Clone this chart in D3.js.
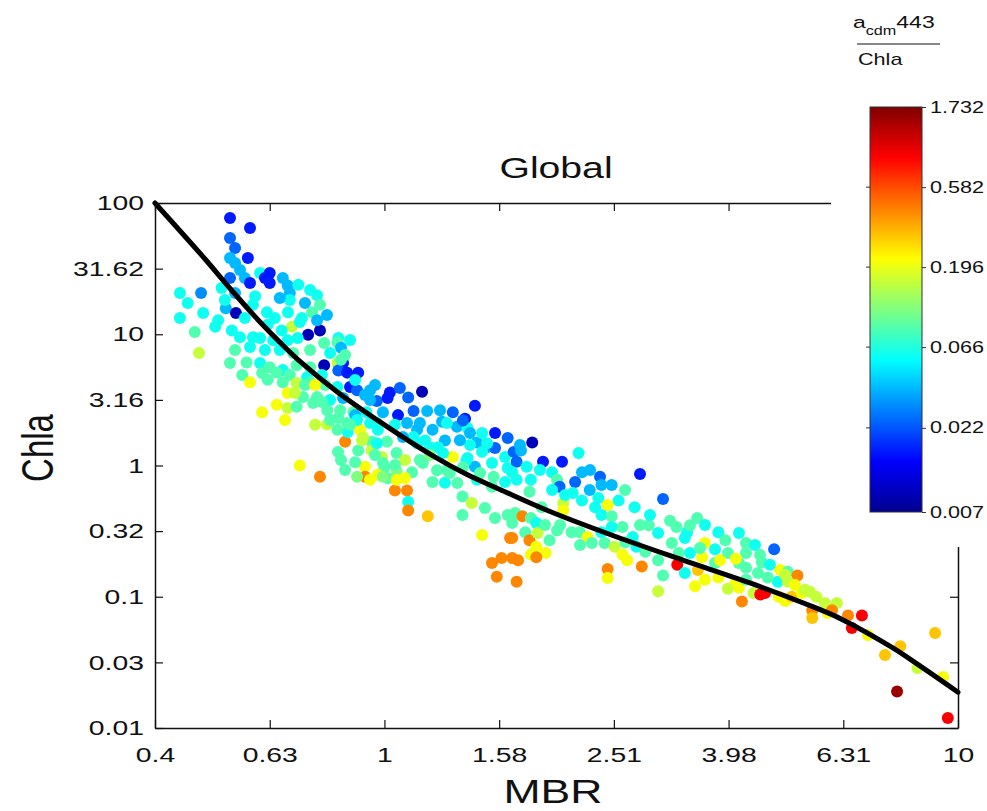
<!DOCTYPE html>
<html>
<head>
<meta charset="utf-8">
<script src="https://cdnjs.cloudflare.com/ajax/libs/d3/7.8.5/d3.min.js"></script>
<style>
  body { margin: 0; background: #fff; }
  text { font-family: "Liberation Sans", Arial, Helvetica, sans-serif; fill: #111; }
</style>
</head>
<body>
<svg id="chart" width="987" height="811"></svg>
<script>
// ---- data ----
// MBR of each station
const mbr = [
  // upper left cloud
  0.538,0.583,0.538,0.549,0.538,0.578,0.549,0.607,0.631,0.619,
  0.665,0.538,0.571,0.583,0.631,0.678,0.708,0.684,0.52,0.549,
  0.595,0.44,0.479,0.454,0.44,0.483,0.529,0.551,0.513,0.59,
  0.571,0.624,0.644,0.679,0.727,0.763,0.772,0.748,0.794,0.718,
  0.69,0.736,0.772,0.763,0.467,0.507,0.542,0.626,0.662,0.56,
  0.59,0.831,0.706,
  // dense band 0.5 - 1.1
  0.475,0.607,0.64,0.678,0.785,0.828,0.549,0.583,0.619,0.657,
  0.693,0.742,0.804,0.538,0.575,0.607,0.631,0.665,0.703,0.742,
  0.785,0.828,0.847,0.565,0.612,0.649,0.684,0.733,0.778,0.831,
  0.861,0.90,0.583,0.626,0.665,0.703,0.742,0.788,0.828,0.871,
  0.896,0.678,0.721,0.763,0.804,0.847,0.944,0.963,1.022,1.064,
  1.163,0.97,1.013,1.10,0.944,
  // around MBR = 1
  0.612,0.649,0.678,0.703,0.751,0.795,0.837,0.883,0.93,0.994,
  1.056,1.124,1.187,1.25,1.316,1.382,1.438,0.889,0.671,0.97,
  1.095,1.14,1.213,1.26,1.338,1.396,1.275,1.24,1.177,1.124,
  1.559,1.64,1.45,1.51,1.559,1.48,1.396,1.316,1.623,1.438,
  1.54,1.64,0.854,0.863,0.907,0.95,1.01,0.90,0.95,0.99,
  1.05,1.086,0.925,1.0,1.117,0.925,0.84,0.84,0.84,0.712,
  0.772,0.944,0.973,1.013,1.043,1.095,1.10,1.10,1.19,1.213,
  1.275,1.34,1.368,1.42,1.497,1.368,1.559,1.64,1.48,1.656,
  1.54,1.60,1.67,1.57,1.45,1.54,1.623,0.698,0.727,0.757,
  0.778,0.794,0.831,
  0.994,1.05,0.896,0.994,1.05,0.828,0.918,0.97,1.077,1.14,
  1.2,1.265,1.39,1.167,1.235,1.30,1.37,1.468,1.55,0.861,
  0.896,0.944,1.153,1.285,1.41,1.48,1.51,1.37,
  // 1.6 - 4.2
  1.81,1.68,1.73,1.70,1.77,1.67,1.70,1.80,1.89,2.04,
  2.18,2.21,2.376,2.49,2.39,2.79,1.96,2.0,2.02,2.15,
  2.28,1.96,1.79,2.13,2.21,2.36,2.56,2.45,2.33,2.05,
  2.05,1.88,3.06,2.73,2.39,2.49,1.69,1.74,1.80,1.67,
  1.84,1.76,2.0,2.12,2.19,2.26,2.39,2.49,2.6,2.71,
  2.89,3.0,3.23,3.37,3.51,3.41,1.67,1.79,1.85,1.94,
  1.84,1.91,1.80,1.71,1.84,2.30,2.42,2.52,2.63,2.75,
  2.6,2.65,2.81,2.85,3.0,3.17,3.34,3.26,3.24,3.41,
  3.34,3.58,3.62,3.77,3.82,3.93,4.15,3.97,3.77,3.52,
  3.62,3.48,3.82,4.085,3.97,2.45,2.45,3.0,3.06,1.70,
  4.2,4.15,
  // oligotrophic tail
  4.27,4.27,4.78,4.1,4.27,4.55,4.7,4.85,4.66,4.48,
  4.9,5.05,5.25,5.05,4.15,4.27,4.4,4.52,4.61,4.87,
  5.0,5.13,5.34,5.52,5.66,5.86,6.15,5.57,5.57,5.93,
  6.03,6.43,6.8,6.53,6.97,7.46,7.93,8.5,9.12,9.42,
  7.83,9.6,
  // filling the dense parts
  0.871,0.914,0.963,1.043,0.974,1.043,1.153,1.201,1.285,1.086,
  0.889,0.83,1.723,1.867,2.065,2.283,2.627,2.904,2.79,3.147,
  3.622,3.55,3.847,4.427,4.517,4.994,5.198,5.411,2.024,2.193,
  1.905,0.684,0.742,0.657,0.712,0.56,0.527,0.871,0.854,0.889,
  0.925,0.804,0.757,0.854,1.41,1.354
];
// Chla (mg m-3)
const chla = [
  76.9,64.5,54.1,45.4,38.1,38.1,34.9,29.3,29.3,26.8,
  26.8,26.8,26.8,24.6,24.6,23.5,23.8,20.6,22.5,20.6,
  19.5,20.6,20.6,17.3,13.3,14.5,15.8,14.5,12.8,16.8,
  13.3,14.7,13.3,14.7,17.3,19.8,16.8,14.7,14.0,13.3,
  11.4,9.9,10.7,12.8,10.4,11.4,10.7,11.8,10.7,9.5,
  9.5,9.36,9.36,
  7.2,9.36,9.0,9.0,8.58,8.7,7.6,8.0,7.6,7.6,
  7.2,7.6,7.2,6.04,6.1,6.04,5.6,5.35,5.8,5.6,
  5.8,6.04,6.04,4.9,5.07,5.1,4.9,4.7,4.9,5.3,
  5.1,5.1,4.3,4.5,4.3,4.25,4.3,4.1,3.97,3.97,
  3.75,3.57,3.33,3.33,3.15,3.27,3.75,4.1,3.6,3.9,
  3.65,3.1,3.27,3.3,3.15,
  2.55,2.9,2.74,2.8,2.99,2.64,2.64,2.55,2.55,2.55,
  2.42,2.6,2.6,2.64,2.55,2.27,2.85,2.42,2.22,2.11,
  2.11,1.87,1.87,2.15,1.97,1.93,1.55,1.38,1.55,1.65,
  1.77,1.62,1.5,1.38,1.36,1.27,1.14,1.16,1.16,0.98,
  1.045,0.957,1.52,1.8,1.87,1.52,1.52,1.3,1.3,1.16,
  1.245,1.1,0.98,0.957,0.89,0.82,1.1,7.9,6.4,1.0,
  0.82,0.78,0.85,0.80,0.645,0.645,0.53,0.455,0.41,0.75,
  0.74,0.736,0.58,0.518,0.474,0.42,0.398,0.42,0.295,0.28,
  0.181,0.197,0.197,0.142,0.78,0.69,0.75,3.57,4.1,4.1,
  3.05,2.05,2.3,
  1.045,0.9,0.82,0.82,0.78,1.87,1.65,1.48,1.65,1.48,
  1.38,1.245,1.1,1.045,0.92,0.877,0.97,0.877,0.82,2.11,
  2.22,2.11,2.11,2.11,1.77,1.77,1.48,2.2,
  1.5,1.27,1.3,1.07,0.98,0.89,0.78,0.78,1.07,1.07,
  1.245,0.89,0.82,0.71,0.71,0.86,0.89,0.78,0.69,0.75,
  0.65,0.65,0.63,0.617,0.54,0.565,0.54,0.5,0.48,0.518,
  0.455,0.48,0.555,0.48,0.42,0.41,0.435,0.41,0.398,0.365,
  0.365,0.31,0.32,0.31,0.31,0.285,0.31,0.34,0.34,0.285,
  0.35,0.306,0.34,0.31,0.398,0.35,0.28,0.27,0.306,0.27,
  0.24,0.215,0.21,0.19,0.2,0.257,0.257,0.24,0.26,0.24,
  0.21,0.19,0.17,0.22,0.19,0.257,0.28,0.215,0.175,0.215,
  0.152,0.2,0.257,0.23,0.31,0.27,0.306,0.215,0.181,0.16,
  0.135,0.12,0.14,0.125,0.115,0.163,0.139,0.11,0.145,0.13,
  0.092,0.181,
  0.257,0.215,0.23,0.195,0.166,0.183,0.175,0.13,0.14,0.152,
  0.16,0.155,0.145,0.13,0.117,0.135,0.107,0.104,0.107,0.1,
  0.093,0.1,0.107,0.109,0.1,0.0896,0.0896,0.079,0.0689,0.0752,
  0.079,0.072,0.072,0.0578,0.051,0.036,0.042,0.0286,0.053,0.0245,
  0.019,0.0119,
  2.04,1.56,1.2,1.01,1.87,2.04,1.1,1.2,0.925,0.803,
  1.06,1.27,1.43,0.925,0.595,0.925,0.65,0.42,0.352,0.38,
  0.352,0.235,0.19,0.248,0.208,0.147,0.123,0.113,0.352,0.248,
  0.352,18.2,21.7,18.9,12.4,30.9,18.2,9.05,6.95,4.48,
  3.45,2.22,2.04,0.925,1.43,1.56
];
// a_cdm(443) / Chla, the colour
const ratio = [
  .016,.016,.024,.024,.038,.016,.038,.06,.016,.016,
  .038,.024,.038,.016,.016,.038,.06,.038,.06,.038,
  .06,.06,.03,.06,.06,.06,.038,.009,.06,.06,
  .06,.06,.06,.06,.038,.06,.085,.085,.038,.06,
  .16,.009,.009,.038,.085,.06,.06,.06,.06,.06,
  .06,.06,.06,
  .16,.06,.06,.06,.085,.085,.085,.06,.06,.06,
  .085,.085,.06,.085,.085,.06,.085,.06,.085,.085,
  .009,.16,.016,.085,.085,.085,.085,.06,.06,.024,
  .016,.016,.21,.085,.085,.16,.085,.085,.06,.016,
  .024,.21,.085,.085,.06,.038,.038,.038,.016,.024,
  .009,.024,.016,.024,.038,
  .21,.21,.16,.085,.085,.085,.085,.085,.06,.038,
  .016,.024,.038,.038,.024,.016,.016,.038,.21,.06,
  .038,.038,.038,.038,.038,.06,.038,.06,.06,.06,
  .016,.024,.038,.038,.024,.06,.06,.21,.06,.038,
  .06,.06,.42,.06,.21,.085,.085,.085,.16,.16,
  .085,.16,.21,.085,.085,.42,.085,.038,.085,.21,
  .42,.21,.21,.085,.42,.42,.06,.42,.3,.085,
  .06,.085,.085,.16,.085,.085,.085,.085,.21,.42,
  .42,.42,.42,.42,.06,.085,.06,.16,.085,.21,
  .085,.16,.085,
  .085,.11,.11,.11,.21,.085,.16,.06,.038,.06,
  .06,.06,.06,.085,.085,.085,.085,.085,.085,.085,
  .06,.06,.038,.06,.038,.06,.06,.024,
  .009,.024,.038,.024,.06,.06,.06,.06,.016,.016,
  .06,.038,.024,.038,.038,.016,.06,.085,.024,.024,
  .038,.06,.085,.06,.06,.06,.06,.21,.06,.16,
  .21,.085,.024,.06,.06,.085,.085,.42,.085,.085,
  .06,.085,.085,.085,.085,.21,.06,.06,.085,.06,
  .085,.06,.085,.06,.085,.085,.42,.42,.16,.085,
  .21,.21,.21,.42,.42,.085,.085,.16,.085,.06,
  .21,.21,.42,.085,.085,.085,.06,.085,.9,.06,
  .06,.21,.21,.06,.06,.085,.06,.085,.085,.3,
  .21,.21,.21,.21,.16,.42,.21,.16,.085,.42,
  .42,.085,
  .085,.085,.024,.21,.085,.085,.06,.06,.085,.085,
  .21,.085,.42,.16,.21,.085,.16,.9,.9,.21,
  .21,.3,.21,.16,.16,.16,.16,.42,.3,.21,
  .42,.42,.9,.9,.21,.3,.3,.16,.3,.21,
  1.5,.9,
  .085,.16,.085,.085,.06,.06,.085,.11,.085,.21,
  .085,.085,.038,.06,.06,.038,.085,.06,.085,.085,
  .06,.085,.21,.06,.085,.16,.21,.16,.085,.085,
  .085,.06,.06,.038,.06,.038,.06,.06,.085,.06,
  .038,.085,.16,.085,.06,.038
];

// fitted curve
const fitMbr  = [0.398, 0.4866, 0.5381, 0.6069, 0.6575, 0.7124, 0.8267, 0.9942, 1.2152, 1.393, 1.590, 1.944, 2.543, 3.315, 4.338, 5.678, 6.279, 7.674, 8.483, 10];
const fitChla = [100, 37.44, 22.32, 12.40, 8.668, 6.211, 3.649, 2.075, 1.183, 0.8524, 0.6565, 0.4461, 0.2852, 0.1902, 0.1274, 0.08152, 0.06721, 0.04112, 0.03079, 0.01874];

const xTicks = [0.3981, 0.631, 1, 1.585, 2.512, 3.981, 6.31, 10];
const xTickLabels = ["0.4", "0.63", "1", "1.58", "2.51", "3.98", "6.31", "10"];
const yTicks = [100, 31.62, 10, 3.162, 1, 0.3162, 0.1, 0.03162, 0.01];
const yTickLabels = ["100", "31.62", "10", "3.16", "1", "0.32", "0.1", "0.03", "0.01"];
const cbTicks = [0.007, 0.022, 0.066, 0.196, 0.582, 1.732];

// ---- drawing ----
const SX = 1.35;   // the original text is wide
const svg = d3.select("#chart");
const plot = {left: 155, right: 958, top: 203, bottom: 728};

const x = d3.scaleLog().domain([xTicks[0], xTicks[xTicks.length - 1]]).range([plot.left, plot.right]);
const y = d3.scaleLog().domain([0.01, 100]).range([plot.bottom, plot.top]);

const jet = d3.scaleLinear()
  .domain([0, 0.125, 0.375, 0.625, 0.875, 1])
  .range(["#00008f", "#0000ff", "#00ffff", "#ffff00", "#ff0000", "#800000"]);
const cLog = d3.scaleLog().domain([cbTicks[0], cbTicks[cbTicks.length - 1]]).range([0, 1]).clamp(true);
const color = v => jet(cLog(v));

const n = Math.min(mbr.length, chla.length, ratio.length);
const pts = d3.range(n).map(i => ({m: mbr[i], c: chla[i], r: ratio[i]}));

svg.append("g")
  .selectAll("circle")
  .data(pts)
  .join("circle")
  .attr("cx", d => x(d.m))
  .attr("cy", d => y(d.c))
  .attr("r", 6)
  .attr("fill", d => color(d.r));

svg.append("path")
  .datum(fitMbr.map((m, i) => [m, fitChla[i]]))
  .attr("d", d3.line().x(d => x(d[0])).y(d => y(d[1])).curve(d3.curveCatmullRom))
  .attr("fill", "none")
  .attr("stroke", "#000")
  .attr("stroke-width", 5)
  .attr("stroke-linecap", "round");

// axes, ticks point inward like matlab
const gx = svg.append("g").attr("transform", `translate(0,${plot.bottom})`)
  .call(d3.axisBottom(x).tickValues(xTicks).tickFormat((d, i) => xTickLabels[i])
    .tickSize(-8).tickSizeOuter(0).tickPadding(19));
const gy = svg.append("g").attr("transform", `translate(${plot.left},0)`)
  .call(d3.axisLeft(y).tickValues(yTicks).tickFormat((d, i) => yTickLabels[i])
    .tickSize(-8).tickSizeOuter(0));
const gt = svg.append("g").attr("transform", `translate(0,${plot.top})`)
  .call(d3.axisTop(x).tickValues(xTicks).tickFormat("").tickSize(-8).tickSizeOuter(0));
const gr = svg.append("g").attr("transform", `translate(${plot.right},0)`)
  .call(d3.axisRight(y).tickValues(yTicks).tickFormat("").tickSize(-8).tickSizeOuter(0));

[gx, gy, gt, gr].forEach(g => {
  g.attr("font-size", 21).attr("font-family", null);
  g.select(".domain").attr("stroke", "#111").attr("stroke-width", 1.5);
  g.selectAll(".tick line").attr("stroke", "#111").attr("stroke-width", 1.2);
});
gx.selectAll("text").attr("transform", `scale(${SX},1)`);
gy.selectAll("text").attr("x", null).attr("transform", `translate(-11,0) scale(${SX},1)`);

// colorbar sits over the top right corner of the box
svg.append("rect").attr("x", 831).attr("y", 0).attr("width", 156).attr("height", 547).attr("fill", "#fff");

const cb = {x: 870, w: 52, top: 107, bottom: 512};
const cy = d3.scaleLog().domain([cbTicks[0], cbTicks[cbTicks.length - 1]]).range([cb.bottom, cb.top]);

const grad = svg.append("defs").append("linearGradient")
  .attr("id", "jetGrad").attr("x1", 0).attr("y1", 1).attr("x2", 0).attr("y2", 0);
d3.range(65).forEach(i => {
  grad.append("stop").attr("offset", i / 64).attr("stop-color", jet(i / 64));
});
svg.append("rect")
  .attr("x", cb.x).attr("y", cb.top).attr("width", cb.w).attr("height", cb.bottom - cb.top)
  .attr("fill", "url(#jetGrad)").attr("stroke", "#333").attr("stroke-width", 1);

const gc = svg.append("g").attr("transform", `translate(${cb.x + cb.w},0)`)
  .call(d3.axisRight(cy).tickValues(cbTicks).tickFormat(d3.format(".3f")).tickSize(4).tickSizeOuter(0));
gc.attr("font-size", 16).attr("font-family", null);
gc.select(".domain").remove();
gc.selectAll(".tick line").attr("stroke", "#333");
gc.selectAll("text").attr("x", null).attr("transform", `translate(8,0) scale(${SX},1)`);
svg.append("g").selectAll("line").data(cbTicks.slice(1, -1)).join("line")
  .attr("x1", cb.x - 4).attr("x2", cb.x).attr("y1", d => cy(d)).attr("y2", d => cy(d))
  .attr("stroke", "#333");

// colorbar title: a_cdm443 / Chla
const ct = svg.append("text").attr("transform", `translate(853,28) scale(${SX},1)`).attr("font-size", 17);
ct.append("tspan").text("a");
ct.append("tspan").attr("font-size", 12).attr("dy", 7).text("cdm");
ct.append("tspan").attr("dy", -7).text("443");
svg.append("line").attr("x1", 857).attr("x2", 940).attr("y1", 44).attr("y2", 44)
  .attr("stroke", "#111").attr("stroke-width", 1.2);
svg.append("text").attr("transform", `translate(858,65) scale(${SX},1)`).attr("font-size", 16).text("Chla");

// titles
svg.append("text").attr("transform", `translate(556,178) scale(${SX},1)`)
  .attr("text-anchor", "middle").attr("font-size", 29).text("Global");
svg.append("text").attr("transform", `translate(553,803) scale(${SX},1)`)
  .attr("text-anchor", "middle").attr("font-size", 33).text("MBR");
svg.append("text").attr("transform", `translate(53,448) scale(${SX},1) rotate(-90)`)
  .attr("text-anchor", "middle").attr("font-size", 33).text("Chla");
</script>
</body>
</html>
